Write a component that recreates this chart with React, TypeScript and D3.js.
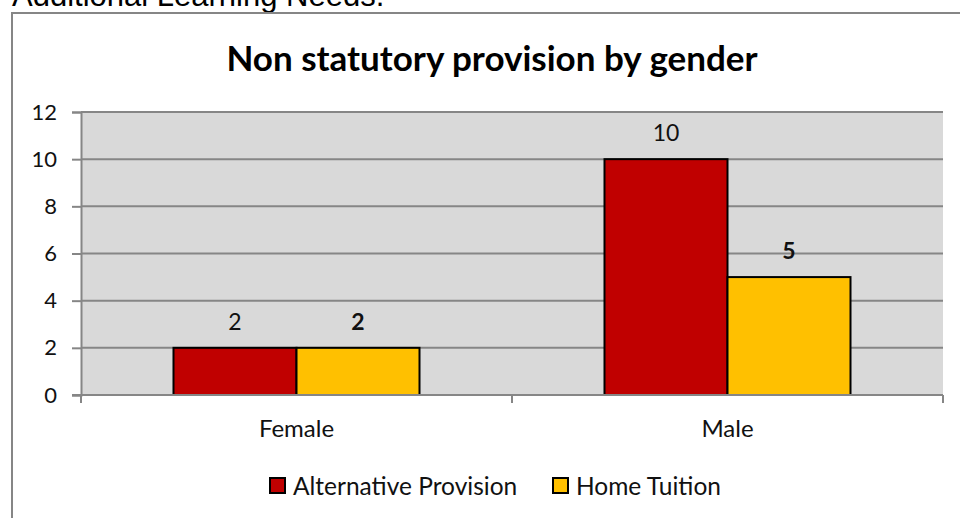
import React, { useEffect, useRef } from "react";
import { select, scaleBand, scaleLinear, axisLeft, axisBottom } from "d3";

const categories = ["Female", "Male"];
const seriesNames = ["Alternative Provision", "Home Tuition"];
const alternativeProvision = [2, 10];
const homeTuition = [2, 5];
const yTicks = [0, 2, 4, 6, 8, 10, 12];

const colors = ["#c00000", "#ffc000"];
const labelWeights = ["normal", "bold"];
const FONT = "Lato, 'Open Sans', sans-serif";

const App = () => {
  const svgRef = useRef<SVGSVGElement>(null);

  useEffect(() => {
    const svg = select(svgRef.current);
    svg.selectAll("*").remove();

    const left = 81, right = 943, top = 112, bottom = 395;
    const values = [alternativeProvision, homeTuition];

    // outer caption, cut off by the top of the window like in the source page
    svg.append("text")
      .attr("x", 12).attr("y", 6)
      .attr("font-family", "'Liberation Sans', Arial, sans-serif")
      .attr("font-size", 31)
      .attr("fill", "#000")
      .text("Additional Learning Needs.");

    // chart frame
    svg.append("rect")
      .attr("x", 12).attr("y", 13)
      .attr("width", 980).attr("height", 540)
      .attr("fill", "#fff")
      .attr("stroke", "#868686").attr("stroke-width", 2);

    svg.append("text")
      .attr("x", 492).attr("y", 71)
      .attr("text-anchor", "middle")
      .attr("font-family", FONT)
      .attr("font-weight", "bold")
      .attr("font-size", 35)
      .attr("fill", "#000")
      .text("Non statutory provision by gender");

    const x = scaleBand().domain(categories).range([left, right]).paddingInner(0).paddingOuter(0);
    const xInner = scaleBand().domain(seriesNames).range([0, x.bandwidth()]).paddingInner(0).paddingOuter(0.752);
    const y = scaleLinear().domain([0, 12]).range([bottom, top]);

    // plot area
    svg.append("rect")
      .attr("x", left).attr("y", top)
      .attr("width", right - left).attr("height", bottom - top)
      .attr("fill", "#d9d9d9");

    // gridlines
    svg.append("g")
      .selectAll("line")
      .data(yTicks.filter(d => d > 0))
      .join("line")
      .attr("x1", left).attr("x2", right)
      .attr("y1", d => y(d)).attr("y2", d => y(d))
      .attr("stroke", "#868686").attr("stroke-width", 2);

    // y axis
    const yAxis = svg.append("g")
      .attr("transform", `translate(${left},0)`)
      .call(axisLeft(y).tickValues(yTicks).tickSize(9).tickPadding(15));
    yAxis.select(".domain").attr("stroke", "#868686").attr("stroke-width", 2);
    yAxis.selectAll(".tick line").attr("stroke", "#868686").attr("stroke-width", 2);
    yAxis.selectAll(".tick text")
      .attr("font-family", FONT).attr("font-size", 22).attr("fill", "#111");

    // bars
    categories.forEach((c, ci) => {
      seriesNames.forEach((s, si) => {
        const v = values[si][ci];
        const bx = (x(c) as number) + (xInner(s) as number);
        svg.append("rect")
          .attr("x", bx).attr("y", y(v))
          .attr("width", xInner.bandwidth()).attr("height", y(0) - y(v))
          .attr("fill", colors[si])
          .attr("stroke", "#000").attr("stroke-width", 2);
        svg.append("text")
          .attr("x", bx + xInner.bandwidth() / 2).attr("y", y(v) - 18)
          .attr("text-anchor", "middle")
          .attr("font-family", FONT).attr("font-size", 23)
          .attr("font-weight", labelWeights[si])
          .attr("fill", "#111")
          .text(v);
      });
    });

    // x axis
    const xAxis = svg.append("g")
      .attr("transform", `translate(0,${bottom})`)
      .call(axisBottom(x).tickSize(0).tickPadding(25));
    xAxis.select(".domain").remove();
    xAxis.selectAll(".tick text")
      .attr("font-family", FONT).attr("font-size", 24).attr("fill", "#111");
    svg.append("line")
      .attr("x1", left - 9).attr("x2", right)
      .attr("y1", bottom).attr("y2", bottom)
      .attr("stroke", "#868686").attr("stroke-width", 2);
    svg.append("g")
      .selectAll("line")
      .data([left, left + x.step(), right])
      .join("line")
      .attr("x1", d => d).attr("x2", d => d)
      .attr("y1", bottom).attr("y2", bottom + 8)
      .attr("stroke", "#868686").attr("stroke-width", 2);

    // legend
    const legendX = [270, 553];
    const legend = svg.append("g");
    seriesNames.forEach((s, si) => {
      legend.append("rect")
        .attr("x", legendX[si]).attr("y", 478)
        .attr("width", 15).attr("height", 15)
        .attr("fill", colors[si])
        .attr("stroke", "#000").attr("stroke-width", 2);
      legend.append("text")
        .attr("x", legendX[si] + 23).attr("y", 495)
        .attr("font-family", FONT).attr("font-size", 24.5)
        .attr("fill", "#111")
        .text(s);
    });
  }, []);

  return (
    <svg ref={svgRef} width={960} height={518}
      style={{ position: "absolute", left: 0, top: 0, background: "#fff" }} />
  );
};

export default App;
